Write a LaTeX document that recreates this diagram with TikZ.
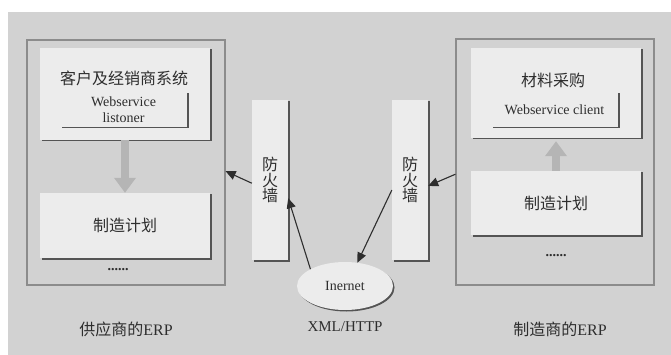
\documentclass[tikz,border=0pt]{standalone}
\usepackage{fontspec}
\setmainfont{Liberation Serif}
\newfontfamily\cjk{Noto Sans CJK SC}
\usetikzlibrary{arrows.meta, shapes, shadows}

\definecolor{panelgray}{HTML}{D2D2D2}
\definecolor{boxgray}{HTML}{ECECEC}
\definecolor{edgegray}{HTML}{8C8C8C}
\definecolor{fatgray}{HTML}{B5B5B5}
\definecolor{inkgray}{HTML}{2E2E2E}

\tikzset{
  sysbox/.style={rectangle, fill=boxgray, inner sep=0pt,
    drop shadow={shadow xshift=1.5pt, shadow yshift=-1.5pt, fill=edgegray!60!black, opacity=1}},
  outerbox/.style={rectangle, draw=edgegray, line width=1.2pt},
  zh/.style={text=inkgray, font=\fontsize{16}{15.5}\selectfont\cjk},
  en/.style={text=inkgray, font=\fontsize{14}{16.5}\selectfont},
  fatarrow/.style={draw=fatgray, line width=8pt, -{Triangle[width=21pt,length=15pt]}},
  thinarrow/.style={draw=inkgray, line width=1.1pt, -{Triangle[length=10pt,width=9pt]}}
}

\begin{document}
\begin{tikzpicture}[x=1pt, y=-1pt]
  \useasboundingbox (0,0) rectangle (671,355);
  % Background
  \fill[panelgray] (8,12) rectangle (671,355);

  % Supplier ERP
  \node[outerbox, minimum width=198pt, minimum height=245pt] (supouter) at (126,162.5) {};
  \node[sysbox, minimum width=170pt, minimum height=92pt] (supsys) at (125,94) {};
  \node[zh] (suptitle) at (124,78) {客户及经销商系统};
  \node[sysbox, en, minimum width=127pt, minimum height=35pt, align=center] (suplisten) at (123.5,109.5) {Webservice\\listoner};
  \node[sysbox, zh, minimum width=170pt, minimum height=65pt] (supplan) at (125,225.5) {制造计划};
  \node[en] (supdots) at (118,270) {\bfseries ......};
  \node[zh] (supname) at (126,329) {供应商的\rmfamily ERP};

  % Manufacturer ERP
  \node[outerbox, minimum width=198pt, minimum height=246pt] (manouter) at (555,162) {};
  \node[sysbox, minimum width=170pt, minimum height=90pt] (manbuy) at (556,93) {};
  \node[zh] (mantitle) at (553,80) {材料采购};
  \node[sysbox, en, minimum width=127pt, minimum height=35pt] (manclient) at (554.5,109.5) {Webservice client};
  \node[sysbox, zh, minimum width=170pt, minimum height=64pt] (manplan) at (556,203) {制造计划};
  \node[en] (mandots) at (556,256) {\bfseries ......};
  \node[zh] (manname) at (560,329) {制造商的\rmfamily ERP};

  % Firewalls and Internet
  \node[sysbox, zh, minimum width=36pt, minimum height=160pt, align=center] (fwl) at (270,180) {防\\火\\墙};
  \node[sysbox, zh, minimum width=36pt, minimum height=160pt, align=center] (fwr) at (410,180) {防\\火\\墙};
  \node[ellipse, fill=boxgray, en, minimum width=96pt, minimum height=48pt, inner sep=0pt,
    drop shadow={shadow xshift=1.5pt, shadow yshift=-1.5pt, fill=edgegray!60!black, opacity=1}] (net) at (345,286) {Inernet};
  \node[en, font=\fontsize{15}{15}\selectfont] (proto) at (345,327) {XML/HTTP};

  % Paths
  \draw[fatarrow] (supsys.south) -- (supplan.north);
  \draw[fatarrow, shorten >=3pt] (manplan.north) -- (manbuy.south);
  \draw[thinarrow] (fwl.190) -- (supouter.-5);
  \draw[thinarrow] (net.154) -- (fwl.-45);
  \draw[thinarrow] (manouter.187) -- (fwr.-18);
  \draw[thinarrow] (fwr.209) -- (net.62);
\end{tikzpicture}
\end{document}
